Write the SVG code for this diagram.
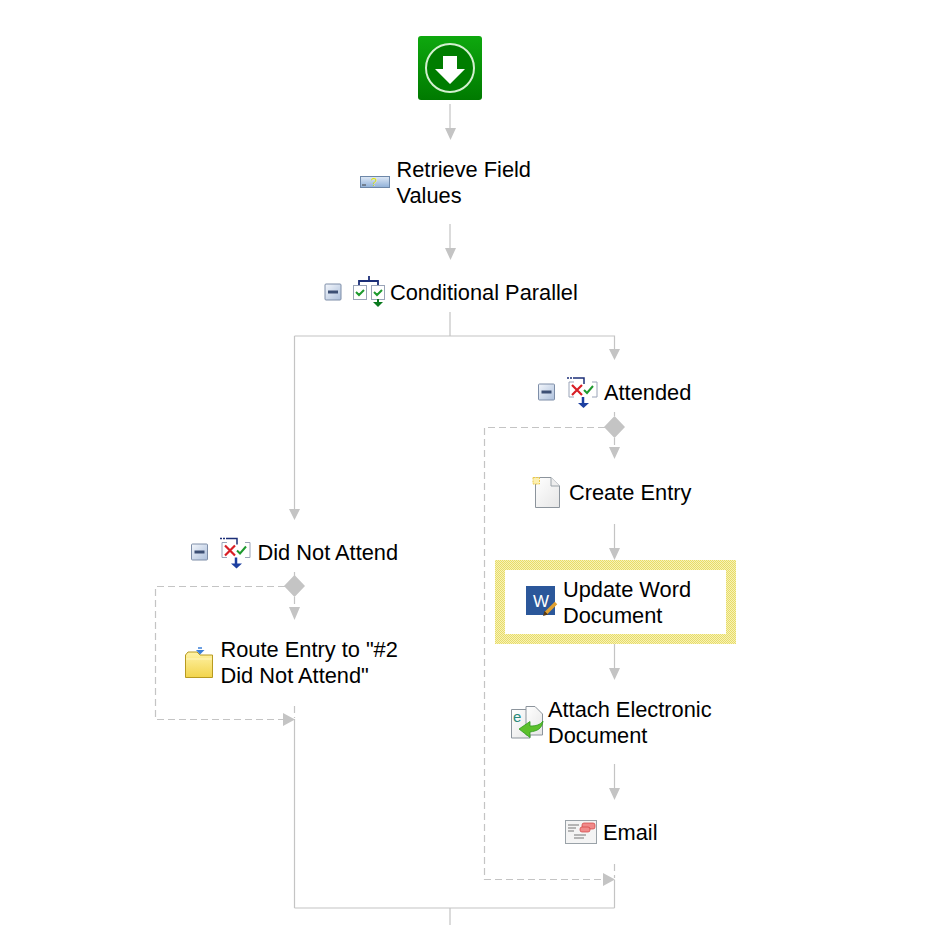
<svg xmlns="http://www.w3.org/2000/svg" width="929" height="925" viewBox="0 0 929 925">
<style>
text{font-family:"Liberation Sans",Arial,sans-serif;font-size:21.8px;fill:#000}
.c{fill:none;stroke:#c4c4c4;stroke-width:1.2}
.d{fill:none;stroke:#c4c4c4;stroke-width:1.2;stroke-dasharray:7 4}
.h{fill:#c4c4c4}
.ex{fill:url(#m);stroke:#7e8ea8;stroke-width:1}
.page{fill:url(#p);stroke:#8c949c;stroke-width:1}
</style>
<defs>
<linearGradient id="g" x1="0" y1="0" x2="0" y2="1"><stop offset="0" stop-color="#0ea80e"/><stop offset="1" stop-color="#007a00"/></linearGradient>
<linearGradient id="q" x1="0" y1="0" x2="0" y2="1"><stop offset="0" stop-color="#dfe9f6"/><stop offset="1" stop-color="#8fb0d8"/></linearGradient>
<linearGradient id="f" x1="0" y1="0" x2="0" y2="1"><stop offset="0" stop-color="#fff3a8"/><stop offset="1" stop-color="#f2d44c"/></linearGradient>
<linearGradient id="m" x1="0" y1="0" x2="1" y2="1"><stop offset="0" stop-color="#f4f7fc"/><stop offset="1" stop-color="#adc0dc"/></linearGradient>
<linearGradient id="p" x1="0" y1="0" x2="1" y2="1"><stop offset="0" stop-color="#ffffff"/><stop offset="1" stop-color="#e6e6e6"/></linearGradient>
<pattern id="hatch" width="2" height="2" patternUnits="userSpaceOnUse"><rect width="2" height="2" fill="#f7f2b8"/><rect width="1" height="1" fill="#e8dc68"/><rect x="1" y="1" width="1" height="1" fill="#e8dc68"/></pattern>
<g id="minus"><rect class="ex" x="-8" y="-8" width="16" height="16" rx="1"/><rect x="-5" y="-1.500" width="10" height="3" fill="#3c4f74"/></g>
<g id="branch">
<path d="M-16-14h8" fill="none" stroke="#1c2f78" stroke-width="1.500" stroke-dasharray="2 1"/>
<path d="M-8-14H1V-8" fill="none" stroke="#1c2f78" stroke-width="1.500"/>
<path d="M-9-10H-14V5H-9M9-10H14V5H9" fill="none" stroke="#9aa4b8"/>
<path d="M-11-7l10 10M-1-7l-10 10" stroke="#d81f26" stroke-width="2.200" fill="none"/>
<path d="M1-2l3 3 6-7" stroke="#1e9a2e" stroke-width="2" fill="none"/>
<path d="M0 5v7" stroke="#1c3fa0" stroke-width="2.500"/>
<path d="M-5 11H6L.5 16z" fill="#1c3fa0"/>
</g>
</defs>

<g id="connectors">
<path class="c" d="M450 104V128M450 224V248M450 312V336M294.500 336H614.500V349M294.500 336V509M614.500 412V416M614.500 524V548M614.500 644V668M614.500 764V788M294.500 572V580M294.500 719V908M614.500 880V908M294.500 908H614.500M450 908V925"/>
<path class="d" d="M605 427.500H484.500V879.500H604M285 586.500H155.500V719.500H284M294.500 597V607M614.500 438V447M294.500 706V718M614.500 864V878"/>
<path class="h" d="M445 128H456L450.500 140zM445 248H456L450.500 260zM609 349H620L614.500 360zM289 509H300L294.500 520zM609 447H620L614.500 459zM609 548H620L614.500 560zM609 668H620L614.500 680zM609 788H620L614.500 800zM289 607H300L294.500 620zM283 713V726L295 719.500zM603 873V886L615 879.500z"/>
<path class="h" d="M614.500 416L625 427L614.500 438L604 427zM294.500 575L305 586L294.500 597L284 586z"/>
</g>

<g id="start">
<rect x="418" y="36" width="64" height="64" rx="3" fill="url(#g)"/>
<circle cx="450" cy="68" r="24" fill="#007d00" stroke="#d4f0d0" stroke-width="2"/>
<path d="M443 56H457V69H465L450 84L435 69H443z" fill="#fff"/>
</g>

<g id="retrieve-field-values">
<rect x="360.500" y="176.500" width="29" height="11" fill="url(#q)" stroke="#6d87a8"/>
<text x="371" y="186" style="font-size:11px;fill:#e8e800">?</text>
<path d="M362 185h4" stroke="#444" stroke-width="1"/>
<text x="396.500" y="177">Retrieve Field</text>
<text x="396.500" y="203">Values</text>
</g>

<g id="conditional-parallel">
<use href="#minus" x="333" y="292"/>
<path d="M359 285v-4h19v4M369 281v-5" fill="none" stroke="#1c2f78" stroke-width="1.800"/>
<rect x="353.500" y="285.500" width="13" height="14" fill="#fff" stroke="#9aa4b8"/>
<rect x="371.500" y="285.500" width="13" height="14" fill="#fff" stroke="#9aa4b8"/>
<path d="M356 292l3 3 5-5M374 292l3 3 5-5" fill="none" stroke="#1e9a2e" stroke-width="2"/>
<path d="M378 299v4" stroke="#0a7a1e" stroke-width="2"/><path d="M373 302h10l-5 5z" fill="#0a7a1e"/>
<text x="390" y="300">Conditional Parallel</text>
</g>

<g id="attended">
<use href="#minus" x="546.500" y="392"/>
<use href="#branch" x="583" y="392"/>
<text x="604" y="400">Attended</text>
</g>

<g id="create-entry">
<path class="page" d="M535.500 477.500H551L559.500 486V507.500H535.500z"/>
<path d="M551 477.500V486H559.500" fill="#eee" stroke="#9aa2a8"/>
<rect x="533" y="477.500" width="6.500" height="6.500" fill="#fdf0b0" stroke="#ecc94a" stroke-dasharray="2 1"/>
<text x="569" y="500">Create Entry</text>
</g>

<g id="update-word-document">
<path d="M495 560H736V644H495zM505 570V634H726V570z" fill="url(#hatch)" fill-rule="evenodd"/>
<rect x="526" y="586" width="29" height="29" fill="#2b579a"/>
<text x="533" y="607" style="font-size:17px;fill:#fff">W</text>
<path d="M546 613L556 603" stroke="#e0a030" stroke-width="3.500"/>
<path d="M543 616L544.500 611L548 614.500z" fill="#5a3a10"/>
<text x="563" y="597">Update Word</text>
<text x="563" y="623">Document</text>
</g>

<g id="attach-electronic-document">
<path class="page" d="M511.500 709.500H530V738H511.500z"/>
<path class="page" d="M526 706.500H535L542.500 714V735H526z"/>
<text x="513" y="722" style="font-size:15px;fill:#2a8a7a">e</text>
<path d="M543 721C542 729 537 731 530 732V737.500L519 729L530 721.500V726C536 726 540 725 543 721z" fill="#5cc02c" stroke="#2f9a1e" stroke-width="0.800"/>
<text x="548" y="717">Attach Electronic</text>
<text x="548" y="743">Document</text>
</g>

<g id="email">
<rect x="565.500" y="820.500" width="31" height="23" fill="#f4f4f4" stroke="#9aa2a8"/>
<path d="M568 825h11M568 828h8M568 831h6M574 835h12M574 838h10" stroke="#777" stroke-width="1"/>
<rect x="582" y="823" width="13" height="6" rx="2" fill="#f08a8a" stroke="#d04040" stroke-width="0.700"/>
<rect x="580" y="827" width="10" height="5" rx="2" fill="#f08a8a" stroke="#d04040" stroke-width="0.700"/>
<text x="603" y="840">Email</text>
</g>

<g id="did-not-attend">
<use href="#minus" x="199.500" y="552"/>
<use href="#branch" x="236" y="552.500"/>
<text x="257.500" y="560">Did Not Attend</text>
</g>

<g id="route-entry">
<path d="M185.500 677.500V655L188 652H197L200 655H212.500V677.500z" fill="url(#f)" stroke="#b89a20"/>
<path d="M186 659H212" stroke="#fff6c0"/>
<path d="M196 650H204.500L200 654.500z" fill="#3b7fd8"/>
<path d="M198 648H202" stroke="#3b7fd8" stroke-width="1.500"/>
<text x="220.500" y="657">Route Entry to "#2</text>
<text x="220.500" y="683">Did Not Attend"</text>
</g>
</svg>
